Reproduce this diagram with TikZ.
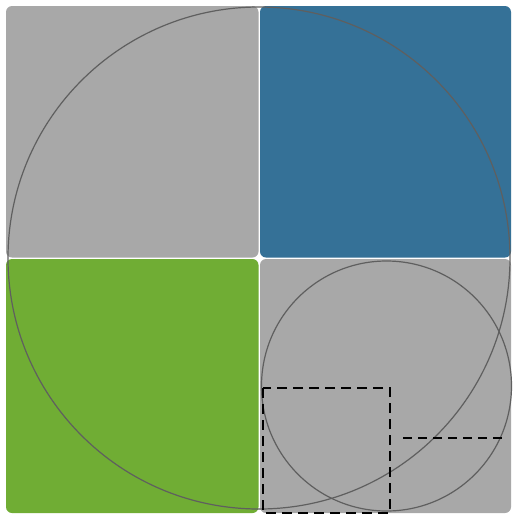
\documentclass[tikz,border=0pt]{standalone}
\definecolor{tilegray}{RGB}{168,168,168}
\definecolor{tileblue}{RGB}{53,113,151}
\definecolor{tilegreen}{RGB}{112,173,52}
\definecolor{arcgray}{RGB}{95,95,95}
\begin{document}
\begin{tikzpicture}[x=1pt,y=-1pt,
  tile/.style={rounded corners=6pt},
  arcline/.style={draw=arcgray,line width=1.2pt},
  dashline/.style={draw=black,line width=2.6pt,dash pattern=on 10pt off 6pt}]
\useasboundingbox (0,0) rectangle (513,515);
\fill[white] (0,0) rectangle (513,515);
\fill[tile,tilegray] (6,6) rectangle (258.5,257.5);
\fill[tile,tileblue] (260,6) rectangle (511,257.5);
\fill[tile,tilegreen] (6,259) rectangle (258.5,513);
\fill[tile,tilegray] (260,259) rectangle (511,513);
\begin{scope}
\clip (0,0) rectangle (513,515);
\draw[arcline] (259,258) circle[radius=251];
\draw[arcline] (386.5,386) circle[radius=125];
\end{scope}
\draw[dashline] (263,388) rectangle (390,513);
\draw[draw=black,line width=2.2pt,dash pattern=on 9pt off 6pt] (403,438) -- (505,438);
\end{tikzpicture}
\end{document}
